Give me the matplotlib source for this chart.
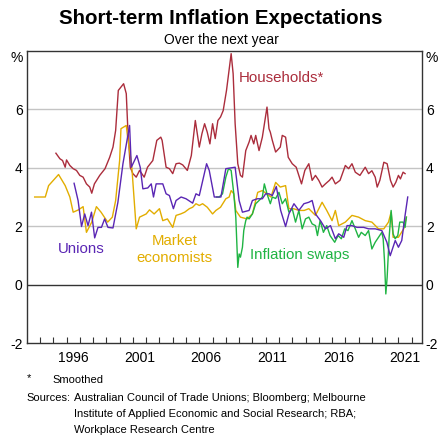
'''
Short-term inflation expectations chart
'''

###########################################
import numpy as np
import matplotlib.pyplot as plt

plt.rcParams['font.family'] = ['Liberation Sans', 'DejaVu Sans']

###########################################
# data

houseYr = [1995.2, 1995.5, 1995.7, 1995.9, 1996.0, 1996.25, 1996.5, 1996.75, 1997.0, 1997.25,
           1997.5, 1997.75, 1997.9, 1998.1, 1998.5, 1998.9, 1999.25, 1999.5, 1999.7, 1999.9,
           2000.3, 2000.5, 2000.6, 2000.8, 2001.0, 2001.25, 2001.5, 2001.85, 2002.1, 2002.5,
           2002.8, 2003.1, 2003.2, 2003.5, 2003.75, 2004.0, 2004.25, 2004.5, 2004.75, 2005.1,
           2005.4, 2005.7, 2006.0, 2006.2, 2006.4, 2006.6, 2006.8, 2007.0, 2007.2, 2007.4,
           2007.6, 2007.8, 2008.05, 2008.4, 2008.55, 2008.7, 2008.9, 2009.1, 2009.25, 2009.5,
           2009.75, 2009.9, 2010.1, 2010.25, 2010.5, 2010.75, 2011.1, 2011.25, 2011.35, 2011.5,
           2011.75, 2012.1, 2012.25, 2012.5, 2012.7, 2013.0, 2013.3, 2013.7, 2013.95, 2014.25,
           2014.5, 2014.75, 2015.0, 2015.25, 2015.5, 2015.8, 2016.0, 2016.25, 2016.6, 2017.0,
           2017.25, 2017.5, 2017.75, 2018.1, 2018.5, 2018.75, 2019.0, 2019.25, 2019.4, 2019.6,
           2019.9, 2020.15, 2020.4, 2020.6, 2020.8, 2021.0, 2021.15, 2021.35, 2021.5]
houseVal = [4.50, 4.31, 4.25, 4.02, 4.27, 4.08, 3.97, 3.91, 3.74, 3.68,
            3.45, 3.34, 3.13, 3.45, 3.74, 3.97, 4.36, 4.71, 5.28, 6.65,
            6.88, 6.54, 5.50, 4.02, 3.80, 3.68, 3.91, 3.68, 4.02, 4.25,
            4.94, 5.05, 4.94, 4.02, 3.97, 3.80, 4.14, 4.16, 4.10, 3.91,
            4.42, 5.62, 4.71, 5.17, 5.51, 5.22, 4.82, 5.51, 5.00, 5.62,
            5.74, 5.96, 6.65, 7.91, 7.22, 5.51, 4.14, 3.74, 3.68, 4.59,
            4.88, 5.11, 4.82, 5.11, 4.59, 5.05, 6.08, 5.34, 5.22, 4.94,
            4.54, 4.71, 5.11, 5.05, 4.36, 4.14, 4.02, 3.45, 3.91, 4.14,
            3.57, 3.74, 3.57, 3.34, 3.45, 3.57, 3.68, 3.45, 3.57, 4.08,
            3.97, 4.14, 3.85, 3.74, 4.02, 3.80, 3.90, 3.68, 3.34, 3.57,
            4.19, 4.14, 3.57, 3.34, 3.50, 3.74, 3.62, 3.85, 3.80]

unionYr = [1996.57, 1996.87, 1997.13, 1997.37, 1997.62, 1997.88, 1998.12, 1998.37, 1998.63, 1998.87,
           1999.12, 1999.50, 1999.87, 2000.25, 2000.75, 2000.88, 2001.30, 2001.55, 2001.75, 2002.12,
           2002.38, 2002.55, 2002.75, 2003.25, 2003.50, 2003.75, 2004.05, 2004.25, 2004.63, 2005.00,
           2005.50, 2005.75, 2006.00, 2006.55, 2006.75, 2007.13, 2007.63, 2008.00, 2008.70, 2009.00,
           2009.25, 2009.75, 2010.00, 2010.37, 2010.75, 2011.00, 2011.25, 2011.50, 2011.80, 2012.13,
           2012.50, 2012.75, 2013.13, 2013.50, 2013.88, 2014.25, 2014.50, 2014.75, 2015.13, 2015.50,
           2015.88, 2016.25, 2016.50, 2016.88, 2017.13, 2017.50, 2017.88, 2018.38, 2018.75, 2019.26,
           2019.75, 2020.13, 2020.38, 2020.76, 2021.00, 2021.25, 2021.50, 2021.70]
unionVal = [3.47, 2.88, 1.99, 2.42, 2.02, 2.48, 1.60, 1.96, 1.96, 2.25,
            1.96, 1.94, 2.82, 4.14, 5.45, 4.02, 4.42, 4.02, 3.28, 3.31,
            3.45, 3.00, 3.45, 3.45, 3.11, 3.05, 2.60, 2.88, 3.00, 2.94,
            2.79, 3.11, 3.05, 4.14, 3.91, 3.00, 3.00, 3.97, 4.02, 2.88,
            2.48, 2.54, 2.88, 2.94, 2.94, 3.11, 3.11, 3.05, 3.36, 2.54,
            1.99, 2.42, 2.77, 2.54, 2.77, 2.82, 2.88, 2.42, 2.19, 1.91,
            2.02, 1.57, 1.74, 1.62, 2.02, 2.02, 1.96, 1.96, 1.91, 1.91,
            1.85, 1.45, 0.99, 1.51, 1.28, 1.51, 2.37, 3.00]

marketYr = [1993.6, 1994.4, 1994.65, 1995.4, 1995.9, 1996.25, 1996.5, 1996.9, 1997.25, 1997.5,
            1997.9, 1998.25, 1998.6, 1999.1, 1999.45, 1999.7, 2000.0, 2000.1, 2000.5, 2000.6,
            2000.9, 2001.25, 2001.5, 2002.0, 2002.25, 2002.6, 2003.0, 2003.25, 2003.6, 2004.0,
            2004.25, 2004.6, 2004.9, 2005.25, 2005.5, 2005.75, 2006.0, 2006.25, 2006.6, 2007.0,
            2007.25, 2007.6, 2008.0, 2008.25, 2008.4, 2008.6, 2008.75, 2009.1, 2009.6, 2010.0,
            2010.4, 2010.75, 2011.4, 2011.75, 2012.1, 2012.5, 2012.75, 2013.1, 2013.5, 2013.9,
            2014.25, 2014.75, 2015.25, 2015.6, 2016.0, 2016.25, 2016.5, 2017.0, 2017.5, 2018.0,
            2018.5, 2019.0, 2019.5, 2019.9, 2020.25, 2020.45, 2020.6, 2021.0, 2021.4, 2021.6]
marketVal = [3.00, 3.00, 3.39, 3.77, 3.39, 3.00, 2.48, 2.56, 2.67, 1.79,
             2.14, 2.67, 2.48, 2.14, 2.31, 2.88, 4.25, 5.34, 5.45, 5.05,
             4.14, 1.91, 2.31, 2.42, 2.56, 2.42, 2.60, 2.19, 2.25, 1.96,
             2.37, 2.42, 2.48, 2.60, 2.65, 2.77, 2.71, 2.77, 2.65, 2.42,
             2.54, 2.65, 2.94, 3.00, 3.22, 3.11, 2.54, 2.31, 2.25, 2.42,
             3.16, 3.22, 3.00, 3.50, 3.34, 3.39, 2.60, 2.60, 2.54, 2.54,
             2.60, 2.37, 2.82, 2.54, 2.19, 2.54, 2.02, 2.14, 2.37, 2.31,
             2.19, 2.14, 1.91, 1.91, 2.14, 2.48, 1.62, 1.62, 1.91, 2.31]

swapYr = [2007.3, 2007.5, 2007.75, 2008.0, 2008.2, 2008.4, 2008.6, 2008.75, 2008.9, 2009.0,
          2009.1, 2009.25, 2009.35, 2009.5, 2009.6, 2009.75, 2010.0, 2010.25, 2010.5, 2010.75,
          2010.9, 2011.1, 2011.35, 2011.5, 2011.75, 2012.0, 2012.25, 2012.5, 2012.75, 2013.0,
          2013.25, 2013.5, 2013.75, 2014.0, 2014.25, 2014.5, 2014.75, 2014.9, 2015.1, 2015.35,
          2015.6, 2015.85, 2016.2, 2016.45, 2016.7, 2016.95, 2017.2, 2017.5, 2017.75, 2018.0,
          2018.2, 2018.5, 2018.75, 2019.0, 2019.25, 2019.5, 2019.75, 2019.85, 2019.95, 2020.05,
          2020.15, 2020.3, 2020.45, 2020.6, 2020.75, 2020.95, 2021.1, 2021.35, 2021.5, 2021.6]
swapVal = [3.00, 3.00, 3.11, 3.68, 3.97, 3.91, 3.11, 2.31, 0.59, 1.05,
           0.94, 1.28, 1.85, 2.19, 2.31, 2.25, 2.42, 2.77, 2.88, 3.00,
           3.45, 3.11, 2.77, 3.00, 2.95, 3.16, 2.77, 2.94, 2.48, 2.60,
           2.14, 2.54, 1.91, 2.25, 2.31, 2.08, 2.02, 1.68, 2.19, 1.79,
           2.02, 1.68, 1.45, 1.68, 1.57, 1.91, 1.85, 2.19, 1.91, 1.62,
           1.79, 1.68, 1.85, 1.22, 1.45, 1.62, 1.79, 1.57, 0.82, -0.32,
           0.25, 1.62, 2.54, 1.74, 1.57, 1.68, 2.14, 2.14, 1.96, 2.31]

yTicks = [-2, 0, 2, 4, 6]
yearLabels = ['1996', '2001', '2006', '2011', '2016', '2021']

colHouse = '#ab2d3c'
colUnion = '#5a26b4'
colMarket = '#e2ad00'
colSwap = '#1fb443'


###########################################
# the main block

if __name__ == '__main__':
  fig = plt.figure(figsize=(4.42, 4.36), dpi=100)
  ax = fig.add_axes([0.0604, 0.2133, 0.8936, 0.6697])

  # gridlines
  for v in [2, 4, 6]:
    ax.axhline(v, color='#c4c4c4', lw=1.0, zorder=1)
  ax.axhline(0, color='#333333', lw=1.0, zorder=1)

  ax.plot(houseYr, houseVal, color=colHouse, lw=1.0, zorder=3)
  ax.plot(marketYr, marketVal, color=colMarket, lw=1.0, zorder=3)
  ax.plot(swapYr, swapVal, color=colSwap, lw=1.0, zorder=3)
  ax.plot(unionYr, unionVal, color=colUnion, lw=1.0, zorder=4)

  ax.set_xlim(1993, 2022.75)
  ax.set_ylim(-2, 8)

  # year ticks inside, labels centred mid-year
  ax.set_xticks(np.arange(1994, 2023), minor=True)
  ax.set_xticks([int(y) + 0.5 for y in yearLabels])
  ax.set_xticklabels(yearLabels)
  ax.tick_params(axis='x', which='major', length=0, labelsize=10, pad=6)
  ax.tick_params(axis='x', which='minor', direction='in', length=4, width=0.8, color='#333333')

  ax.set_yticks(yTicks)
  ax.set_yticklabels([str(v) for v in yTicks])
  ax.tick_params(axis='y', length=0, labelsize=10, pad=3, labelleft=True, labelright=True)

  for s in ax.spines.values():
    s.set_color('#333333')
    s.set_linewidth(1.0)

  ax.text(-0.01, 0.975, '%', transform=ax.transAxes, ha='right', va='center', fontsize=10)
  ax.text(1.01, 0.975, '%', transform=ax.transAxes, ha='left', va='center', fontsize=10)

  # series labels
  ax.text(2009.0, 7.06, 'Households*', color=colHouse, fontsize=10.8, va='center')
  ax.text(1995.35, 1.23, 'Unions', color=colUnion, fontsize=10.8, va='center')
  ax.text(2004.13, 1.2, 'Market\neconomists', color=colMarket, fontsize=10.8, ha='center',
          va='center', linespacing=1.2)
  ax.text(2009.83, 1.03, 'Inflation swaps', color=colSwap, fontsize=10.8, va='center')

  # titles
  fig.text(0.5, 0.957, 'Short-term Inflation Expectations', ha='center', va='center',
           fontsize=14.8, fontweight='bold')
  fig.text(0.5, 0.908, 'Over the next year', ha='center', va='center', fontsize=10)

  # footnotes
  fig.text(0.061, 0.133, '*', fontsize=8, va='center')
  fig.text(0.118, 0.128, 'Smoothed', fontsize=8, va='center')
  fig.text(0.061, 0.088, 'Sources:', fontsize=8, va='center')
  fig.text(0.168, 0.088, 'Australian Council of Trade Unions; Bloomberg; Melbourne', fontsize=8, va='center')
  fig.text(0.168, 0.051, 'Institute of Applied Economic and Social Research; RBA;', fontsize=8, va='center')
  fig.text(0.168, 0.014, 'Workplace Research Centre', fontsize=8, va='center')

  fig.savefig('out.png', dpi=100)
  plt.close()
